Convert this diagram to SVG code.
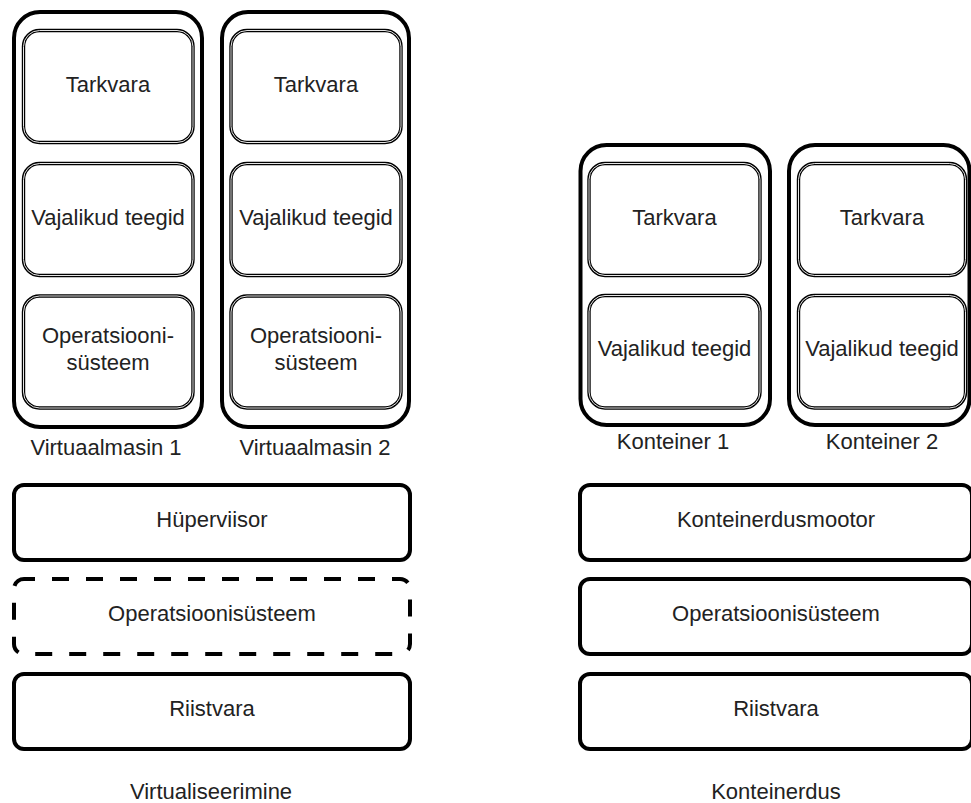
<svg xmlns="http://www.w3.org/2000/svg" width="971" height="803" viewBox="0 0 971 803">
<style>
.outer{fill:#fff;stroke:#000;stroke-width:4}
.inA{fill:#fff;stroke:#000;stroke-width:3.4}
.inB{fill:none;stroke:#fff;stroke-width:0.9}
.layer{fill:#fff;stroke:#000;stroke-width:4}
.dash{fill:#fff;stroke:#000;stroke-width:4;stroke-dasharray:17 17}
text{font-family:"Liberation Sans",Arial,sans-serif;font-size:22px;fill:#222;text-anchor:middle}
</style>
<rect width="971" height="803" fill="#fff"/>

<g id="vm1">
<rect class="outer" x="14" y="12" width="188" height="415" rx="26"/>
<text x="106" y="455">Virtuaalmasin 1</text>
<g id="vm1-tarkvara"><rect class="inA" x="23.5" y="30.5" width="169.5" height="112" rx="16"/><rect class="inB" x="23.5" y="30.5" width="169.5" height="112" rx="16"/><text x="108" y="92">Tarkvara</text></g>
<g id="vm1-teegid"><rect class="inA" x="23.5" y="163.5" width="169.5" height="112" rx="16"/><rect class="inB" x="23.5" y="163.5" width="169.5" height="112" rx="16"/><text x="108" y="225">Vajalikud teegid</text></g>
<g id="vm1-os"><rect class="inA" x="23.5" y="296" width="169.5" height="112" rx="16"/><rect class="inB" x="23.5" y="296" width="169.5" height="112" rx="16"/><text x="108" y="343">Operatsiooni-</text><text x="108" y="370">süsteem</text></g>
</g>

<g id="vm2">
<rect class="outer" x="222" y="12" width="187" height="415" rx="26"/>
<text x="315" y="455">Virtuaalmasin 2</text>
<g id="vm2-tarkvara"><rect class="inA" x="231" y="30.5" width="170" height="112" rx="16"/><rect class="inB" x="231" y="30.5" width="170" height="112" rx="16"/><text x="316" y="92">Tarkvara</text></g>
<g id="vm2-teegid"><rect class="inA" x="231" y="163.5" width="170" height="112" rx="16"/><rect class="inB" x="231" y="163.5" width="170" height="112" rx="16"/><text x="316" y="225">Vajalikud teegid</text></g>
<g id="vm2-os"><rect class="inA" x="231" y="296" width="170" height="112" rx="16"/><rect class="inB" x="231" y="296" width="170" height="112" rx="16"/><text x="316" y="343">Operatsiooni-</text><text x="316" y="370">süsteem</text></g>
</g>

<g id="hyperviisor"><rect class="layer" x="14" y="485" width="396" height="75" rx="10"/><text x="212" y="527">Hüperviisor</text></g>
<g id="host-os"><rect class="dash" x="14" y="579" width="396" height="75" rx="10" stroke-dashoffset="6"/><text x="212" y="621">Operatsioonisüsteem</text></g>
<g id="riistvara-vm"><rect class="layer" x="14" y="674" width="396" height="75" rx="10"/><text x="212" y="716">Riistvara</text></g>
<g id="label-virt"><text x="211" y="799">Virtualiseerimine</text></g>

<g id="k1">
<rect class="outer" x="580.5" y="145" width="189.5" height="280" rx="26"/>
<text x="673" y="449">Konteiner 1</text>
<g id="k1-tarkvara"><rect class="inA" x="589" y="163.5" width="171" height="112" rx="16"/><rect class="inB" x="589" y="163.5" width="171" height="112" rx="16"/><text x="674.5" y="224.5">Tarkvara</text></g>
<g id="k1-teegid"><rect class="inA" x="589" y="295.5" width="171" height="112.5" rx="16"/><rect class="inB" x="589" y="295.5" width="171" height="112.5" rx="16"/><text x="674.5" y="356">Vajalikud teegid</text></g>
</g>

<g id="k2">
<rect class="outer" x="789" y="145" width="180.5" height="280" rx="26"/>
<text x="882" y="449">Konteiner 2</text>
<g id="k2-tarkvara"><rect class="inA" x="798.5" y="163.5" width="167" height="112" rx="16"/><rect class="inB" x="798.5" y="163.5" width="167" height="112" rx="16"/><text x="882" y="224.5">Tarkvara</text></g>
<g id="k2-teegid"><rect class="inA" x="798.5" y="295.5" width="167" height="112.5" rx="16"/><rect class="inB" x="798.5" y="295.5" width="167" height="112.5" rx="16"/><text x="882" y="356">Vajalikud teegid</text></g>
</g>

<g id="mootor"><rect class="layer" x="580" y="485" width="392" height="75" rx="10"/><text x="776" y="527">Konteinerdusmootor</text></g>
<g id="os-k"><rect class="layer" x="580" y="579" width="392" height="75" rx="10"/><text x="776" y="621">Operatsioonisüsteem</text></g>
<g id="riistvara-k"><rect class="layer" x="580" y="674" width="392" height="75" rx="10"/><text x="776" y="716">Riistvara</text></g>
<g id="label-kont"><text x="776" y="799">Konteinerdus</text></g>
</svg>
